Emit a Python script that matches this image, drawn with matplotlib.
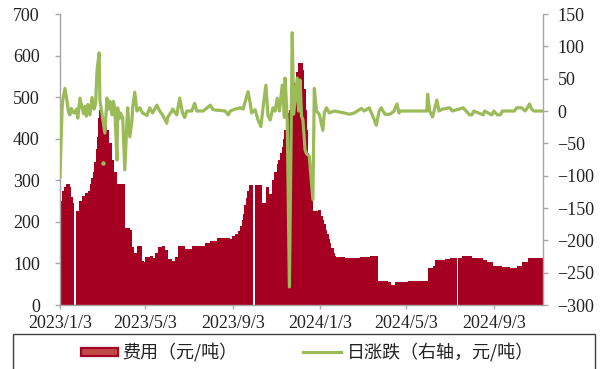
import matplotlib
matplotlib.use("Agg")
import matplotlib.pyplot as plt
import matplotlib.dates as mdates
import numpy as np
import pandas as pd
from matplotlib.patches import Rectangle
from matplotlib.lines import Line2D

# 费用 (元/吨): value holds from each date until the next one; None = no data
cost_dates = [
    "2023-01-03", "2023-01-04", "2023-01-05", "2023-01-06", "2023-01-08", "2023-01-11",
    "2023-01-17", "2023-01-19", "2023-01-21", "2023-01-23", "2023-01-25", "2023-01-30",
    "2023-02-03", "2023-02-07", "2023-02-11", "2023-02-14", "2023-02-16", "2023-02-18",
    "2023-02-20", "2023-02-22", "2023-02-24", "2023-02-25", "2023-02-26", "2023-02-27",
    "2023-03-01", "2023-03-02", "2023-03-03", "2023-03-10", "2023-03-13", "2023-03-17",
    "2023-03-20", "2023-03-24", "2023-04-04", "2023-04-11", "2023-04-14", "2023-04-17",
    "2023-04-21", "2023-04-28", "2023-05-01", "2023-05-02", "2023-05-03", "2023-05-09",
    "2023-05-13", "2023-05-17", "2023-05-20", "2023-05-26", "2023-05-30", "2023-06-03",
    "2023-06-09", "2023-06-13", "2023-06-17", "2023-06-27", "2023-07-08", "2023-07-25",
    "2023-08-01", "2023-08-11", "2023-08-29", "2023-09-02", "2023-09-06", "2023-09-10",
    "2023-09-13", "2023-09-15", "2023-09-17", "2023-09-19", "2023-09-21", "2023-09-23",
    "2023-09-25", "2023-10-01", "2023-10-04", "2023-10-14", "2023-10-19", "2023-10-24",
    "2023-10-28", "2023-10-31", "2023-11-03", "2023-11-05", "2023-11-08", "2023-11-10",
    "2023-11-12", "2023-11-14", "2023-11-16", "2023-11-18", "2023-11-21", "2023-11-24",
    "2023-11-26", "2023-11-28", "2023-11-30", "2023-12-03", "2023-12-10", "2023-12-12",
    "2023-12-14", "2023-12-16", "2023-12-17", "2023-12-19", "2023-12-21", "2023-12-23",
    "2023-12-24", "2023-12-31", "2024-01-05", "2024-01-07", "2024-01-09", "2024-01-11",
    "2024-01-13", "2024-01-15", "2024-01-17", "2024-01-19", "2024-01-22", "2024-01-24",
    "2024-01-26", "2024-02-07", "2024-02-28", "2024-03-13", "2024-03-25", "2024-04-07",
    "2024-04-11", "2024-04-17", "2024-05-05", "2024-06-02", "2024-06-03", "2024-06-09",
    "2024-06-12", "2024-06-26", "2024-07-03", "2024-07-13", "2024-07-14", "2024-07-21",
    "2024-08-03", "2024-08-19", "2024-08-24", "2024-09-02", "2024-09-15", "2024-09-26",
    "2024-10-05", "2024-10-06", "2024-10-12", "2024-10-21", "2024-11-11",
]
cost_vals = [
    210, 222, 250, 275, 285, 290,
    285, 260, 245, None, 225, 250,
    262, 270, 275, 290, 305, 320,
    345, 375, 405, 430, 450, 470,
    525, 470, 430, 420, 390, 350,
    320, 292, 185, 180, 140, 125,
    142, 105, 103, None, 115, 118,
    112, 125, 140, 142, 132, 110,
    106, 115, 142, 135, 142, 150,
    155, 162, 160, 165, 170, 178,
    190, 205, 220, 240, 258, 275,
    288, None, 288, 245, 285, 268,
    300, 320, 340, 350, 365, 380,
    400, 420, 440, 462, 470, 480,
    505, 534, 560, 582, 565, 520,
    470, 420, 365, 330, 300, 260,
    225, 228, 215, 205, 195, 180,
    170, 160, 150, 138, 125, 118,
    115, 112, 115, 118, 58, 55,
    48, 55, 58, 60, 90, 95,
    108, 110, 113, None, 113, 118,
    113, 108, 103, 95, 91, 89,
    None, 95, 103, 113, 113,
]

# 日涨跌 (右轴, 元/吨)
chg_dates = [
    "2023-01-03", "2023-01-06", "2023-01-07", "2023-01-10", "2023-01-13", "2023-01-15",
    "2023-01-17", "2023-01-19", "2023-01-21", "2023-01-24", "2023-01-26", "2023-01-28",
    "2023-01-31", "2023-02-03", "2023-02-05", "2023-02-07", "2023-02-09", "2023-02-11",
    "2023-02-14", "2023-02-17", "2023-02-20", "2023-02-22", "2023-02-24", "2023-02-27",
    "2023-02-28", "2023-03-03", "2023-03-07", "2023-03-10", "2023-03-12", "2023-03-14",
    "2023-03-17", "2023-03-19", "2023-03-21", "2023-03-24", "2023-03-25", "2023-03-27",
    "2023-03-29", "2023-04-01", "2023-04-04", "2023-04-07", "2023-04-08", "2023-04-11",
    "2023-04-14", "2023-04-15", "2023-04-18", "2023-04-21", "2023-04-25", "2023-04-29",
    "2023-05-05", "2023-05-09", "2023-05-13", "2023-05-19", "2023-05-23", "2023-05-27",
    "2023-06-02", "2023-06-03", "2023-06-09", "2023-06-10", "2023-06-16", "2023-06-20",
    "2023-06-24", "2023-06-27", "2023-06-30", "2023-07-07", "2023-07-11", "2023-07-14",
    "2023-07-23", "2023-08-02", "2023-08-06", "2023-08-23", "2023-08-27", "2023-08-30",
    "2023-09-06", "2023-09-13", "2023-09-17", "2023-09-22", "2023-09-24", "2023-09-27",
    "2023-09-29", "2023-10-04", "2023-10-08", "2023-10-12", "2023-10-15", "2023-10-19",
    "2023-10-22", "2023-10-25", "2023-10-29", "2023-11-01", "2023-11-04", "2023-11-07",
    "2023-11-11", "2023-11-14", "2023-11-15", "2023-11-18", "2023-11-21", "2023-11-25",
    "2023-11-27", "2023-12-02", "2023-12-04", "2023-12-06", "2023-12-08", "2023-12-10",
    "2023-12-13", "2023-12-15", "2023-12-19", "2023-12-24", "2023-12-26", "2023-12-29",
    "2024-01-02", "2024-01-07", "2024-01-09", "2024-01-12", "2024-01-16", "2024-01-23",
    "2024-02-06", "2024-02-13", "2024-02-20", "2024-03-01", "2024-03-05", "2024-03-12",
    "2024-03-16", "2024-03-22", "2024-03-26", "2024-03-29", "2024-04-03", "2024-04-10",
    "2024-04-16", "2024-04-20", "2024-04-23", "2024-04-24", "2024-06-01", "2024-06-02",
    "2024-06-05", "2024-06-09", "2024-06-15", "2024-06-18", "2024-06-23", "2024-07-03",
    "2024-07-07", "2024-07-22", "2024-07-26", "2024-07-31", "2024-08-03", "2024-08-06",
    "2024-08-19", "2024-08-21", "2024-08-31", "2024-09-03", "2024-09-08", "2024-09-12",
    "2024-09-15", "2024-10-02", "2024-10-05", "2024-10-12", "2024-10-17", "2024-10-20",
    "2024-10-23", "2024-10-26", "2024-10-29", "2024-11-11",
]
chg_vals = [
    -102, 5, 17, 35, 15, -2,
    -6, 4, -2, -3, 3, -11,
    20, 5, -4, 7, -8, 10,
    -6, 21, 3, 12, 63, 90,
    17, -5, -34, 20, 3, 15,
    -6, 15, 2, -76, 5, -12,
    -3, -10, -91, -15, 5, -40,
    -15, 5, 29, 0, 5, -3,
    -7, 5, -3, 9, 0, -6,
    -19, -10, 0, 3, -6, 20,
    -3, -10, 0, 0, 12, 0,
    0, 9, 2, 0, -6, 0,
    3, 5, 3, 22, 30, 12,
    -3, 2, -14, -24, 5, 40,
    -7, -14, 5, 0, 20, 0,
    40, -10, 51, -14, -272, 121,
    -5, 51, 0, 48, -8, -14,
    -60, -66, -70, -137, 35, 0,
    -5, -30, -3, 5, -3, 0,
    -3, -5, -3, 4, 0, 5,
    -5, -22, 0, 5, -5, -5,
    0, 11, -3, 0, 0, 26,
    0, -9, 17, 0, 3, 5,
    0, 5, 0, -6, -6, 0,
    -6, 0, -6, 0, -6, -6,
    0, 0, 5, 5, 0, 5,
    11, 3, 0, 0,
]
# a lone reading with no neighbours on the line
dot_dates = ["2023-03-04"]
dot_vals = [-80]

tick_dates = ["2023-01-03", "2023-05-03", "2023-09-03", "2024-01-03", "2024-05-03", "2024-09-03"]
tick_labels = ["2023/1/3", "2023/5/3", "2023/9/3", "2024/1/3", "2024/5/3", "2024/9/3"]

RED = "#A50021"
GREEN = "#9BBB59"
GRAY = "#A6A6A6"
SERIF = "Liberation Serif"
CJK = ["Noto Sans CJK SC", "DejaVu Sans"]


def to_num(ds):
    return mdates.date2num(pd.to_datetime(ds))


fig = plt.figure(figsize=(6.01, 3.69), dpi=100)
ax = fig.add_axes([0.0998, 0.1734, 0.8037, 0.7886])
ax2 = ax.twinx()

# step outline of the cost series; None breaks the fill
cx = to_num(cost_dates)
cy = np.array([np.nan if v is None else v for v in cost_vals], dtype=float)
sx = np.repeat(cx, 2)[1:]
sy = np.repeat(cy, 2)[:-1]
ax.fill_between(sx, 0, sy, color=RED, lw=0, zorder=2)

ax2.plot(to_num(chg_dates), chg_vals, color=GREEN, lw=2.3, solid_joinstyle="round")
ax2.plot(to_num(dot_dates), dot_vals, "o", color=GREEN, ms=3.2, mew=0)

x0, x1 = to_num(["2023-01-03", "2024-11-11"])
ax.set_xlim(x0, x1)
ax.set_ylim(0, 700)
ax.set_yticks(np.arange(0, 701, 100))
ax2.set_ylim(-300, 150)
ax2.set_yticks(np.arange(-300, 151, 50))
ax.set_xticks(to_num(tick_dates))
ax.set_xticklabels(tick_labels)

for a in (ax, ax2):
    a.spines["top"].set_visible(False)
    for s in ("left", "right", "bottom"):
        a.spines[s].set_color(GRAY)
        a.spines[s].set_linewidth(1.0)
    for lab in a.get_xticklabels() + a.get_yticklabels():
        lab.set_fontfamily(SERIF)
        lab.set_fontsize(13)
        lab.set_color("#222222")
ax.spines["right"].set_visible(False)
ax2.spines["left"].set_visible(False)
ax2.spines["bottom"].set_visible(False)
ax.tick_params(axis="y", direction="out", length=3.5, width=1, color=GRAY, pad=11)
ax.tick_params(axis="x", direction="out", length=3, width=1, color=GRAY, pad=4)
ax2.tick_params(axis="y", direction="out", length=3.5, width=1, color=GRAY, pad=7)

# legend strip below the chart
fig.patches.append(Rectangle((13 / 601, -0.01), 582 / 601, (369 - 334) / 369 + 0.01,
                             transform=fig.transFigure, fill=False,
                             edgecolor="#404040", lw=1.0))
ly = 1 - 352 / 369
fig.patches.append(Rectangle((81 / 601, ly - 4 / 369), 37 / 601, 8 / 369,
                             transform=fig.transFigure, facecolor="#C04A4A",
                             edgecolor=RED, lw=1.6))
fig.lines.append(Line2D([303 / 601, 341 / 601], [ly, ly], transform=fig.transFigure,
                        color=GREEN, lw=2.3))
fig.text(122 / 601, ly, "费用（元/吨）", family=CJK, fontsize=13, va="center",
         color="#222222")
fig.text(347 / 601, ly, "日涨跌（右轴，元/吨）", family=CJK, fontsize=13, va="center",
         color="#222222")

fig.savefig("out.png", dpi=100)
